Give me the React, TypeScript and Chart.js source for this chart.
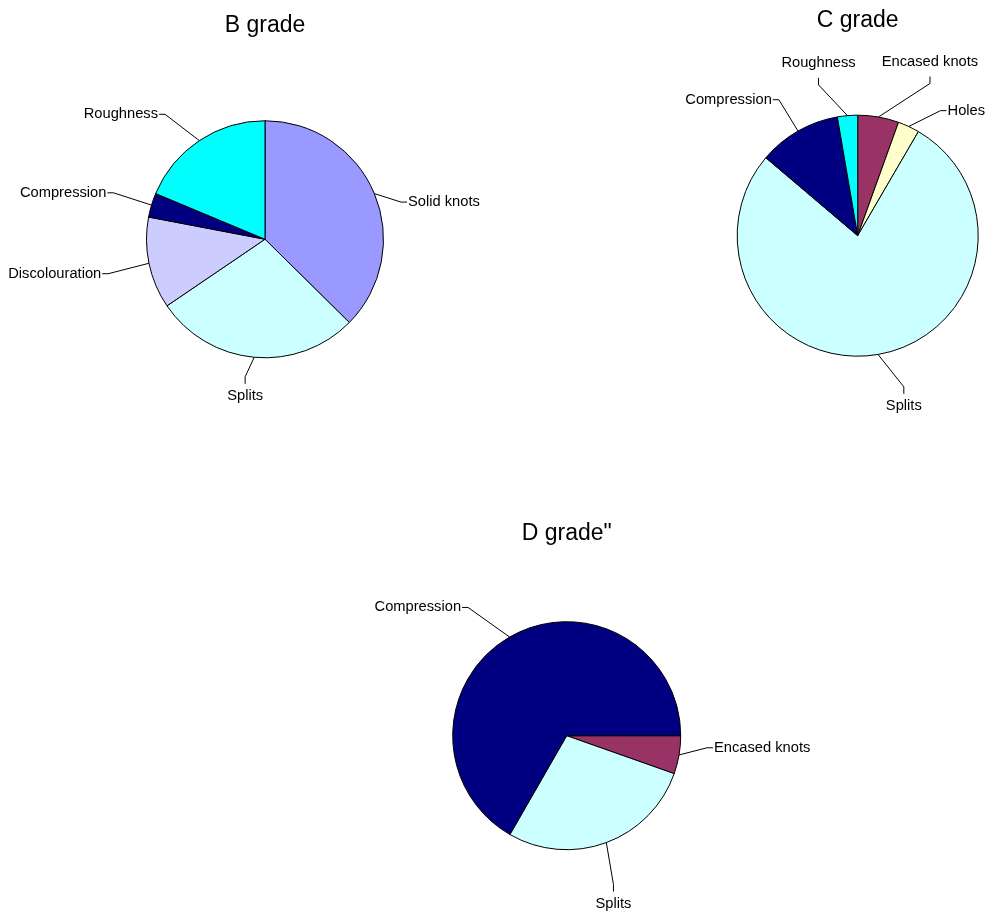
import { useEffect, useRef } from 'react';
import { Chart, registerables } from 'chart.js';

Chart.register(...registerables);

const FONT = '"Liberation Sans", Arial, Helvetica, sans-serif';

// Defect shares per timber grade (percent of defects)
const B_TITLE = 'B grade';
const B_LABELS = ['Solid knots', 'Splits', 'Discolouration', 'Compression', 'Roughness'];
const B_VALUES = [37.4, 28.1, 12.5, 3.3, 18.7];

const C_TITLE = 'C grade';
const C_LABELS = ['Encased knots', 'Holes', 'Splits', 'Compression', 'Roughness'];
const C_VALUES = [5.5, 2.9, 77.8, 11.1, 2.7];

const D_TITLE = 'D grade"';
const D_LABELS = ['Encased knots', 'Splits', 'Compression'];
const D_VALUES = [5.4, 27.9, 66.7];

// Fill colour for each defect type
const DEFECT_COLORS: Record<string, string> = {
  'Solid knots': '#9999FF',
  'Encased knots': '#993366',
  Holes: '#FFFFCC',
  Splits: '#CCFFFF',
  Discolouration: '#CCCCFF',
  Compression: '#000080',
  Roughness: '#00FFFF',
};

// Leader-label placement per slice: [angle shift in degrees, distance beyond rim in px]
const B_LABEL_LAYOUT = [[7.4, 22.5], [3, 20.5], [-0.7, 42], [0.3, 40], [-5, 41.5]];
const C_LABEL_LAYOUT = [[15.5, 48], [8.5, 29.5], [-7.25, 37.5], [-0.4, 36.7], [-9.7, 35.3]];
const D_LABEL_LAYOUT = [[-4.8, 26.8], [2.9, 42], [-7.5, 47.8]];

const TICK_V = 7;
const TICK_H = 6;
const TEXT_GAP = 1;

// Draws category names outside the pie, joined to each slice by a leader line
const leaderLabels = {
  id: 'leaderLabels',
  afterDatasetsDraw(chart: any, _args: any, opts: any) {
    const { ctx } = chart;
    const meta = chart.getDatasetMeta(0);
    const labels: string[] = chart.data.labels;
    const layout: number[][] = opts.layout || [];
    ctx.save();
    ctx.font = `${opts.size}px ${FONT}`;
    ctx.fillStyle = '#000';
    ctx.strokeStyle = '#000';
    ctx.lineWidth = 1;
    meta.data.forEach((arc: any, i: number) => {
      const { x, y, startAngle, endAngle, outerRadius } = arc.getProps(
        ['x', 'y', 'startAngle', 'endAngle', 'outerRadius'],
        true
      );
      const mid = (startAngle + endAngle) / 2;
      const [shift, ext] = layout[i] || [0, 30];
      const a = mid + (shift * Math.PI) / 180;
      const ex = x + Math.cos(mid) * outerRadius;
      const ey = y + Math.sin(mid) * outerRadius;
      const bx = x + Math.cos(a) * (outerRadius + ext);
      const by = y + Math.sin(a) * (outerRadius + ext);
      const fromTop = ((((a * 180) / Math.PI + 90) % 360) + 360) % 360;
      const vertical = fromTop < 27.5 || fromTop > 332.5 || Math.abs(fromTop - 180) < 27.5;
      ctx.beginPath();
      ctx.moveTo(ex, ey);
      ctx.lineTo(bx, by);
      const label = labels[i];
      if (vertical) {
        const up = fromTop < 90 || fromTop > 270;
        const ty = up ? by - TICK_V : by + TICK_V;
        ctx.lineTo(bx, ty);
        ctx.stroke();
        ctx.textAlign = 'center';
        ctx.textBaseline = 'alphabetic';
        ctx.fillText(label, bx, up ? ty - 10.5 : ty + 16.5);
      } else {
        const right = fromTop < 180;
        const tx = right ? bx + TICK_H : bx - TICK_H;
        ctx.lineTo(tx, by);
        ctx.stroke();
        ctx.textAlign = right ? 'left' : 'right';
        ctx.textBaseline = 'middle';
        ctx.fillText(label, right ? tx + TEXT_GAP : tx - TEXT_GAP, by);
      }
    });
    ctx.restore();
  },
};

type Rect = { x: number; y: number; w: number; h: number };

interface PieProps {
  rect: Rect;
  title: string;
  labels: string[];
  values: number[];
  rotation: number;
  radius: number;
  padding: { left: number; right: number; top: number; bottom: number };
  titlePad: { top: number; bottom: number };
  labelLayout: number[][];
}

function GradePie({ rect, title, labels, values, rotation, radius, padding, titlePad, labelLayout }: PieProps) {
  const ref = useRef<HTMLCanvasElement>(null);
  useEffect(() => {
    const chart = new Chart(ref.current as HTMLCanvasElement, {
      type: 'pie',
      data: {
        labels,
        datasets: [
          {
            data: values,
            backgroundColor: labels.map((l) => DEFECT_COLORS[l]),
            borderColor: '#000000',
            borderWidth: 1,
            rotation,
          } as any,
        ],
      },
      options: {
        responsive: false,
        animation: false,
        events: [],
        rotation,
        radius,
        layout: { padding },
        plugins: {
          legend: { display: false },
          tooltip: { enabled: false },
          title: {
            display: true,
            text: title,
            color: '#000000',
            font: { family: FONT, size: 23, weight: 'normal', lineHeight: 1.2 },
            padding: titlePad,
          },
          leaderLabels: { layout: labelLayout, size: 14.7 },
        } as any,
      } as any,
      plugins: [leaderLabels],
    });
    return () => chart.destroy();
  }, []);
  return (
    <canvas
      ref={ref}
      width={rect.w}
      height={rect.h}
      style={{ position: 'absolute', left: rect.x, top: rect.y, width: rect.w, height: rect.h }}
    />
  );
}

export default function App() {
  return (
    <div style={{ position: 'absolute', left: 0, top: 0, width: 988, height: 918, background: '#ffffff' }}>
      <GradePie
        rect={{ x: 0, y: 0, w: 530, h: 460 }}
        title={B_TITLE}
        labels={B_LABELS}
        values={B_VALUES}
        rotation={0}
        radius={118.5}
        padding={{ left: 0, right: 0, top: 0, bottom: 30.8 }}
        titlePad={{ top: 11.7, bottom: 10 }}
        labelLayout={B_LABEL_LAYOUT}
      />
      <GradePie
        rect={{ x: 600, y: 0, w: 388, h: 440 }}
        title={C_TITLE}
        labels={C_LABELS}
        values={C_VALUES}
        rotation={0}
        radius={120.5}
        padding={{ left: 127.4, right: 0, top: 0, bottom: 12.9 }}
        titlePad={{ top: 6.7, bottom: 10 }}
        labelLayout={C_LABEL_LAYOUT}
      />
      <GradePie
        rect={{ x: 300, y: 480, w: 534, h: 438 }}
        title={D_TITLE}
        labels={D_LABELS}
        values={D_VALUES}
        rotation={90}
        radius={114}
        padding={{ left: 0, right: 0.6, top: 0, bottom: 4.2 }}
        titlePad={{ top: 40, bottom: 10 }}
        labelLayout={D_LABEL_LAYOUT}
      />
    </div>
  );
}
